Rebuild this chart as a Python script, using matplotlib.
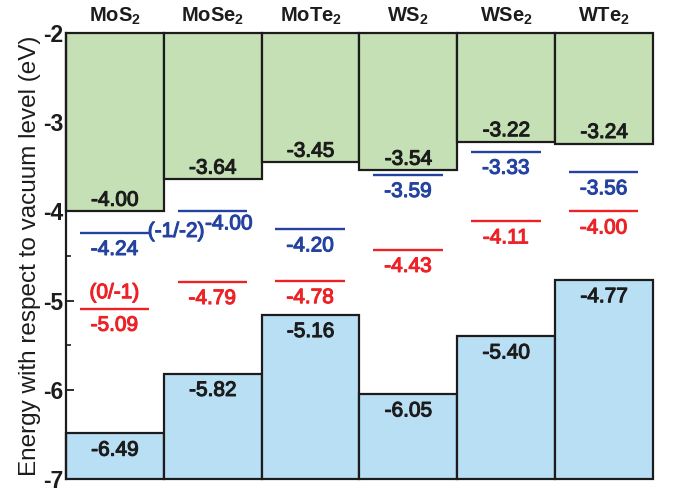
import matplotlib
matplotlib.use("Agg")
import matplotlib.pyplot as plt
import matplotlib.patheffects as pe
import numpy as np

# Band edges and defect charge-transition levels (eV vs. vacuum)
materials = ["MoS", "MoSe", "MoTe", "WS", "WSe", "WTe"]
cbm = [-4.00, -3.64, -3.45, -3.54, -3.22, -3.24]
vbm = [-6.49, -5.82, -5.16, -6.05, -5.40, -4.77]
level_m1_m2 = [-4.24, -4.00, -4.20, -3.59, -3.33, -3.56]   # (-1/-2)
level_0_m1 = [-5.09, -4.79, -4.78, -4.43, -4.11, -4.00]    # (0/-1)
y_top, y_bottom = -2, -7

plt.rcParams["font.family"] = ["Liberation Sans", "DejaVu Sans"]
plt.rcParams["mathtext.fontset"] = "custom"
plt.rcParams["mathtext.rm"] = "Liberation Sans"
plt.rcParams["mathtext.bf"] = "Liberation Sans:bold"

GREEN = "#c5e0b4"
LIGHT_BLUE = "#b9dff5"
LINE_BLUE = "#2443a0"
RED = "#ec2227"
INK = "#1c1c1c"


def heavy(color):
    """Slightly thickened glyph outlines for value labels."""
    return [pe.withStroke(linewidth=0.8, foreground=color)]


fig = plt.figure(figsize=(6.76, 4.96), dpi=100)
ax = fig.add_axes([0.0976, 0.0343, 0.8684, 0.8992])

x = np.arange(len(materials))
cbm_arr = np.array(cbm)
vbm_arr = np.array(vbm)

ax.bar(x, y_top - cbm_arr, bottom=cbm_arr, width=1.0, color=GREEN,
       edgecolor=INK, linewidth=1.6, clip_on=False, zorder=2)
ax.bar(x, vbm_arr - y_bottom, bottom=y_bottom, width=1.0, color=LIGHT_BLUE,
       edgecolor=INK, linewidth=1.6, clip_on=False, zorder=2)

fs = 15
for i in x:
    ax.annotate(f"{cbm[i]:.2f}", (i, cbm[i]), xytext=(0, 8), textcoords="offset points",
                ha="center", va="center", fontsize=fs, color=INK, zorder=4,
                path_effects=heavy(INK))
    ax.annotate(f"{vbm[i]:.2f}", (i, vbm[i]), xytext=(0, -12), textcoords="offset points",
                ha="center", va="center", fontsize=fs, color=INK, zorder=4,
                path_effects=heavy(INK))
    ax.annotate(materials[i] + r"$_\mathbf{2}$", (i, y_top), xytext=(0, 12),
                textcoords="offset points", ha="center", va="center",
                fontsize=14.5, fontweight="bold", color=INK, annotation_clip=False)

# Defect transition levels
x0, x1 = x - 0.36, x + 0.35
xc = (x0 + x1) / 2
ax.hlines(level_m1_m2, x0, x1, colors=LINE_BLUE, linewidth=1.7, zorder=3)
ax.hlines(level_0_m1, x0, x1, colors=RED, linewidth=1.7, zorder=3)

for i in x:
    dx, dy = 0, -12
    if i == 1:
        dx, dy = 12, -9
    ax.annotate(f"{level_m1_m2[i]:.2f}", (xc[i], level_m1_m2[i]), xytext=(dx, dy),
                textcoords="offset points", ha="center", va="center",
                fontsize=fs, color=LINE_BLUE, zorder=4, path_effects=heavy(LINE_BLUE))
    ax.annotate(f"{level_0_m1[i]:.2f}", (xc[i], level_0_m1[i]), xytext=(0, -12),
                textcoords="offset points", ha="center", va="center",
                fontsize=fs, color=RED, zorder=4, path_effects=heavy(RED))

ax.annotate("(-1/-2)", (x1[0], level_m1_m2[0]), xytext=(-1, 1), textcoords="offset points",
            ha="left", va="center", fontsize=fs, color=LINE_BLUE, zorder=4,
            path_effects=heavy(LINE_BLUE))
ax.annotate("(0/-1)", (xc[0], level_0_m1[0]), xytext=(0, 11.5), textcoords="offset points",
            ha="center", va="center", fontsize=fs, color=RED, zorder=4,
            path_effects=heavy(RED))

ax.set_xlim(-0.5, len(materials) - 0.5)
ax.set_ylim(y_bottom, y_top)
ax.set_yticks(np.arange(y_bottom, y_top + 1, 1))
ax.set_yticks(np.arange(y_bottom + 0.5, y_top, 1), minor=True)
ax.set_yticklabels([f"{v:d}" for v in range(y_bottom, y_top + 1)], fontweight="bold")
ax.tick_params(axis="y", which="major", direction="in", length=6, width=1.3,
               labelsize=16.5, pad=2, colors=INK)
ax.tick_params(axis="y", which="minor", direction="in", length=3.5, width=1.2, colors=INK)
ax.set_xticks([])
for side in ("top", "right", "bottom"):
    ax.spines[side].set_visible(False)
ax.spines["left"].set_linewidth(1.6)
ax.spines["left"].set_color(INK)
ax.set_ylabel("Energy with respect to vacuum level (eV)", fontsize=17.5, color=INK, labelpad=1)
ax.patch.set_alpha(0)

fig.savefig("out.png", dpi=100)
